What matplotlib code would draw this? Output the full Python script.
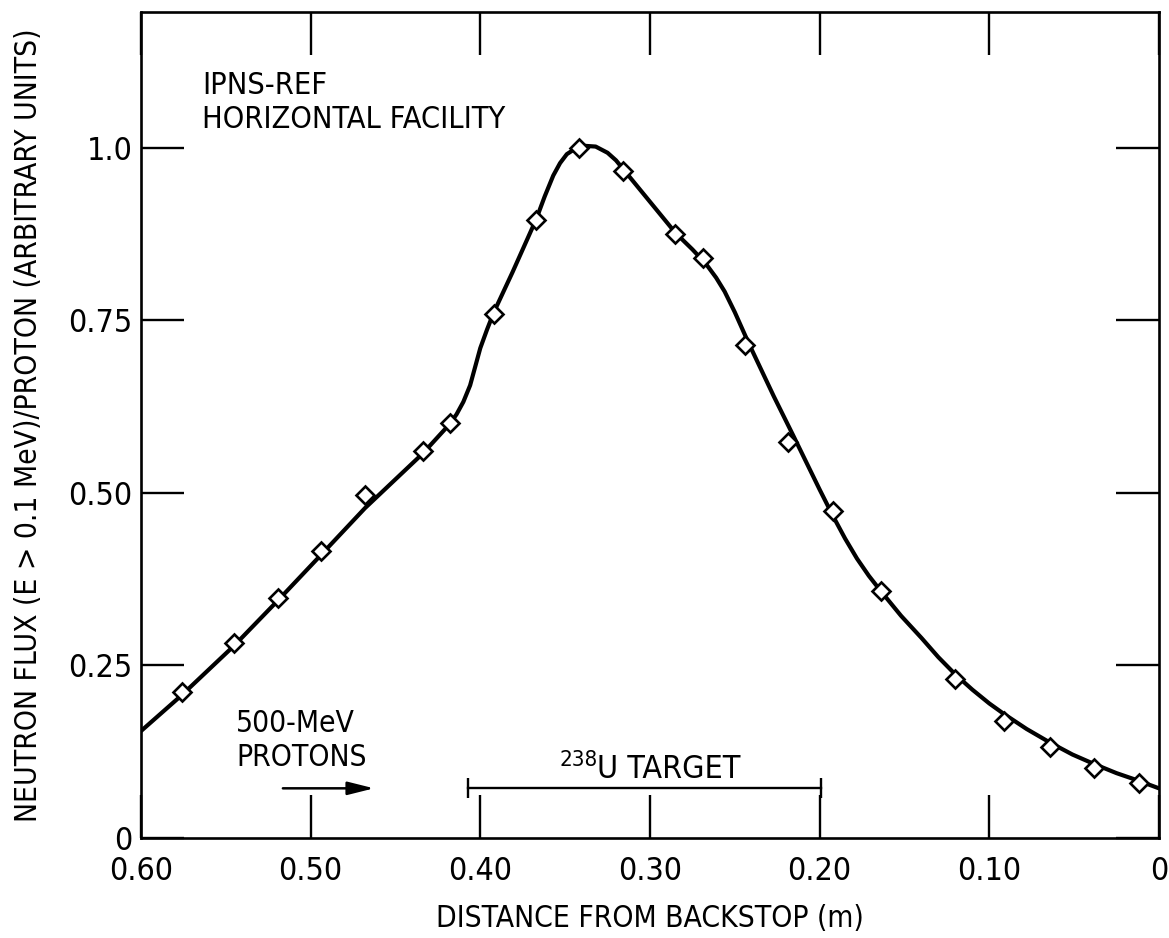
import matplotlib
matplotlib.use("Agg")
import matplotlib.pyplot as plt
from matplotlib.patches import FancyArrowPatch

# ---- data ----
meas_x = [0.576, 0.545, 0.519, 0.494, 0.468, 0.434, 0.418, 0.392, 0.367, 0.342,
          0.316, 0.285, 0.269, 0.244, 0.2185, 0.192, 0.164, 0.120, 0.0915, 0.064,
          0.038, 0.012]
meas_y = [0.211, 0.282, 0.348, 0.416, 0.497, 0.561, 0.602, 0.760, 0.896, 1.000,
          0.966, 0.876, 0.841, 0.714, 0.574, 0.474, 0.358, 0.231, 0.170, 0.132,
          0.102, 0.079]

curve_x = [0.600, 0.576, 0.545, 0.519, 0.494, 0.468, 0.434, 0.418, 0.414, 0.410,
           0.406, 0.403, 0.400, 0.396, 0.392, 0.381, 0.367, 0.362, 0.357, 0.353,
           0.349, 0.344, 0.338, 0.332, 0.325, 0.320, 0.315, 0.306, 0.285, 0.275,
           0.267, 0.261, 0.256, 0.250, 0.242, 0.227, 0.2155, 0.200, 0.192, 0.185,
           0.178, 0.171, 0.164, 0.152, 0.140, 0.130, 0.120, 0.110, 0.100, 0.0915,
           0.078, 0.064, 0.051, 0.038, 0.025, 0.012, 0.000]
curve_y = [0.155, 0.207, 0.279, 0.345, 0.410, 0.478, 0.557, 0.600, 0.614, 0.632,
           0.656, 0.683, 0.710, 0.737, 0.762, 0.820, 0.897, 0.930, 0.960, 0.978,
           0.991, 0.999, 1.003, 1.002, 0.993, 0.982, 0.967, 0.940, 0.877, 0.853,
           0.832, 0.812, 0.792, 0.762, 0.718, 0.640, 0.583, 0.505, 0.466, 0.434,
           0.405, 0.380, 0.358, 0.322, 0.290, 0.262, 0.237, 0.215, 0.195, 0.180,
           0.158, 0.138, 0.121, 0.107, 0.094, 0.083, 0.072]

x_ticks = [0.60, 0.50, 0.40, 0.30, 0.20, 0.10, 0.0]
x_tick_labels = ["0.60", "0.50", "0.40", "0.30", "0.20", "0.10", "0"]
y_ticks = [0.0, 0.25, 0.50, 0.75, 1.0]
y_tick_labels = ["0", "0.25", "0.50", "0.75", "1.0"]

target_span = [0.4075, 0.199]
target_level = 0.072
beam_arrow = [0.518, 0.461]
beam_level = 0.072

FONT = ["Liberation Sans Narrow", "DejaVu Sans"]
plt.rcParams["font.family"] = FONT
plt.rcParams["font.stretch"] = "condensed"

fig = plt.figure(figsize=(11.69, 9.38), dpi=100)
ax = fig.add_axes([0.1206, 0.1066, 0.8708, 0.8806])

ax.plot(curve_x, curve_y, color="black", lw=3.0, solid_joinstyle="round",
        solid_capstyle="round", zorder=2)
ax.plot(meas_x, meas_y, linestyle="none", marker="D", ms=9.5, mfc="white",
        mec="black", mew=1.9, zorder=3)

ax.set_xlim(0.60, 0.0)
ax.set_ylim(0.0, 1.197)

ax.set_xticks(x_ticks)
ax.set_xticklabels(x_tick_labels)
ax.set_yticks(y_ticks)
ax.set_yticklabels(y_tick_labels)

ax.tick_params(axis="both", which="major", direction="in", length=31, width=1.7,
               top=True, right=True, labelsize=23, color="black")
ax.tick_params(axis="x", pad=13)
ax.tick_params(axis="y", pad=6)
for s in ax.spines.values():
    s.set_linewidth(1.9)

ax.set_xlabel("DISTANCE FROM BACKSTOP (m)", fontsize=21.5, labelpad=12)
ax.set_ylabel("NEUTRON FLUX (E > 0.1 MeV)/PROTON (ARBITRARY UNITS)", fontsize=21.5,
              labelpad=18)

# annotations
ax.text(0.564, 1.112, "IPNS-REF\nHORIZONTAL FACILITY", fontsize=22, ha="left",
        va="top", linespacing=1.25)
ax.text(0.544, 0.187, "500-MeV\nPROTONS", fontsize=21.5, ha="left", va="top",
        linespacing=1.2)

arr = FancyArrowPatch((beam_arrow[0], beam_level), (beam_arrow[1], beam_level),
                      arrowstyle="-|>,head_length=1.6,head_width=0.4",
                      mutation_scale=10, lw=1.8, color="black")
ax.add_patch(arr)

ax.plot(target_span, [target_level, target_level], color="black", lw=1.7,
        marker="|", ms=15, mew=1.7)
ax.text(0.331, 0.087, "U TARGET", fontsize=23, ha="left", va="baseline")
ax.text(0.331, 0.104, "238", fontsize=16, ha="right", va="baseline")

fig.savefig("out.png", dpi=100)
